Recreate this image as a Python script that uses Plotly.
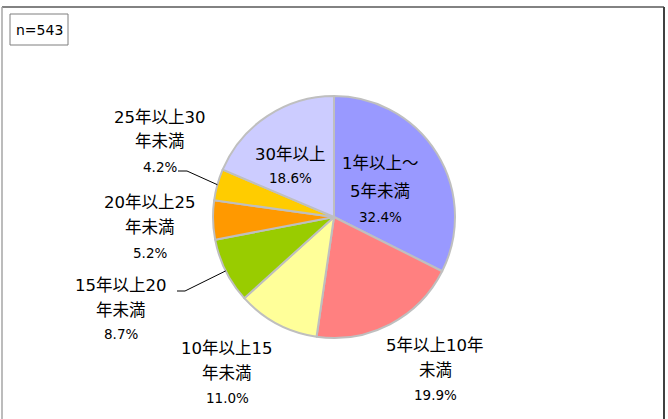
import math
import plotly.graph_objects as go

# Years of service breakdown (n=543)
categories = [
    "1年以上～<br>5年未満",
    "5年以上10年<br>未満",
    "10年以上15<br>年未満",
    "15年以上20<br>年未満",
    "20年以上25<br>年未満",
    "25年以上30<br>年未満",
    "30年以上",
]
shares = [32.4, 19.9, 11.0, 8.7, 5.2, 4.2, 18.6]
colors = ["#9999FF", "#FF8080", "#FFFF99", "#99CC00", "#FF9900", "#FFCC00", "#CCCCFF"]
sample_label = "n=543"

W, H = 668, 419
CX, CY, R = 334, 217, 121  # pie centre and radius in pixels

# wide latin digits, CJK glyphs from the Noto CJK fallback
FONT = "DejaVu Sans, Noto Sans CJK JP, sans-serif"


def px(x):
    return x / W


def py(y):
    return 1 - y / H


fig = go.Figure()
fig.add_trace(go.Pie(
    labels=[c.replace("<br>", "") for c in categories],
    values=shares,
    sort=False,
    direction="clockwise",
    rotation=0,
    textinfo="none",
    hoverinfo="label+percent",
    marker=dict(colors=colors, line=dict(color="#BFBFBF", width=2)),
    domain=dict(x=[px(CX - R), px(CX + R)], y=[py(CY + R), py(CY - R)]),
    showlegend=False,
))

# label placement: (x centre, y of each name line, y of the percentage line)
label_pos = [
    (380, [163, 191], 217),
    (435, [345, 370], 395),
    (227, [348, 373], 398),
    (121, [285, 310], 334),
    (150, [203, 227], 253),
    (160, [117, 142], 167),
    (290, [154], 178),
]

annotations = []
for cat, val, (lx, ys, py_) in zip(categories, shares, label_pos):
    for line, ly in zip(cat.split("<br>"), ys):
        annotations.append(dict(
            x=px(lx), y=py(ly), xref="paper", yref="paper",
            text=line, showarrow=False, xanchor="center", yanchor="middle",
            font=dict(family=FONT, size=16.5, color="#000000"),
        ))
    annotations.append(dict(
        x=px(lx), y=py(py_), xref="paper", yref="paper",
        text=f"{val:.1f}%", showarrow=False, xanchor="center", yanchor="middle",
        font=dict(family=FONT, size=13.5, color="#000000"),
    ))

# sample size box
annotations.append(dict(
    x=px(39), y=py(30), xref="paper", yref="paper",
    text=sample_label, showarrow=False, xanchor="center", yanchor="middle",
    font=dict(family=FONT, size=14, color="#000000"),
))

shapes = []
# leader lines from the outside labels to the middle of their slices
total = sum(shares)
leaders = {5: (178, 187, 171), 3: (177, 185, 291)}
cum = 0.0
for i, v in enumerate(shares):
    if i in leaders:
        mid = (cum + v / 2) / total * 2 * math.pi
        ex = CX + R * math.sin(mid)
        ey = CY - R * math.cos(mid)
        x0, x1, ly = leaders[i]
        shapes.append(dict(type="path", xref="paper", yref="paper",
                           path=f"M {px(x0)} {py(ly)} L {px(x1)} {py(ly)} L {px(ex)} {py(ey)}",
                           line=dict(color="#000000", width=1)))
    cum += v

# n box
shapes.append(dict(type="rect", xref="paper", yref="paper",
                   x0=px(10), x1=px(68), y0=py(45), y1=py(14),
                   line=dict(color="#7F7F7F", width=1), fillcolor="rgba(0,0,0,0)"))
# outer frame
shapes.append(dict(type="line", xref="paper", yref="paper",
                   x0=px(2), x1=px(664), y0=py(7), y1=py(7),
                   line=dict(color="#595959", width=1.5)))
shapes.append(dict(type="line", xref="paper", yref="paper",
                   x0=px(664), x1=px(664), y0=py(7), y1=0,
                   line=dict(color="#404040", width=2)))
shapes.append(dict(type="line", xref="paper", yref="paper",
                   x0=px(2), x1=px(2), y0=py(7), y1=0,
                   line=dict(color="#A6A6A6", width=1.5)))

fig.update_layout(
    width=W, height=H,
    margin=dict(l=0, r=0, t=0, b=0),
    paper_bgcolor="#FFFFFF",
    plot_bgcolor="#FFFFFF",
    annotations=annotations,
    shapes=shapes,
)

fig.write_html("out.html")
